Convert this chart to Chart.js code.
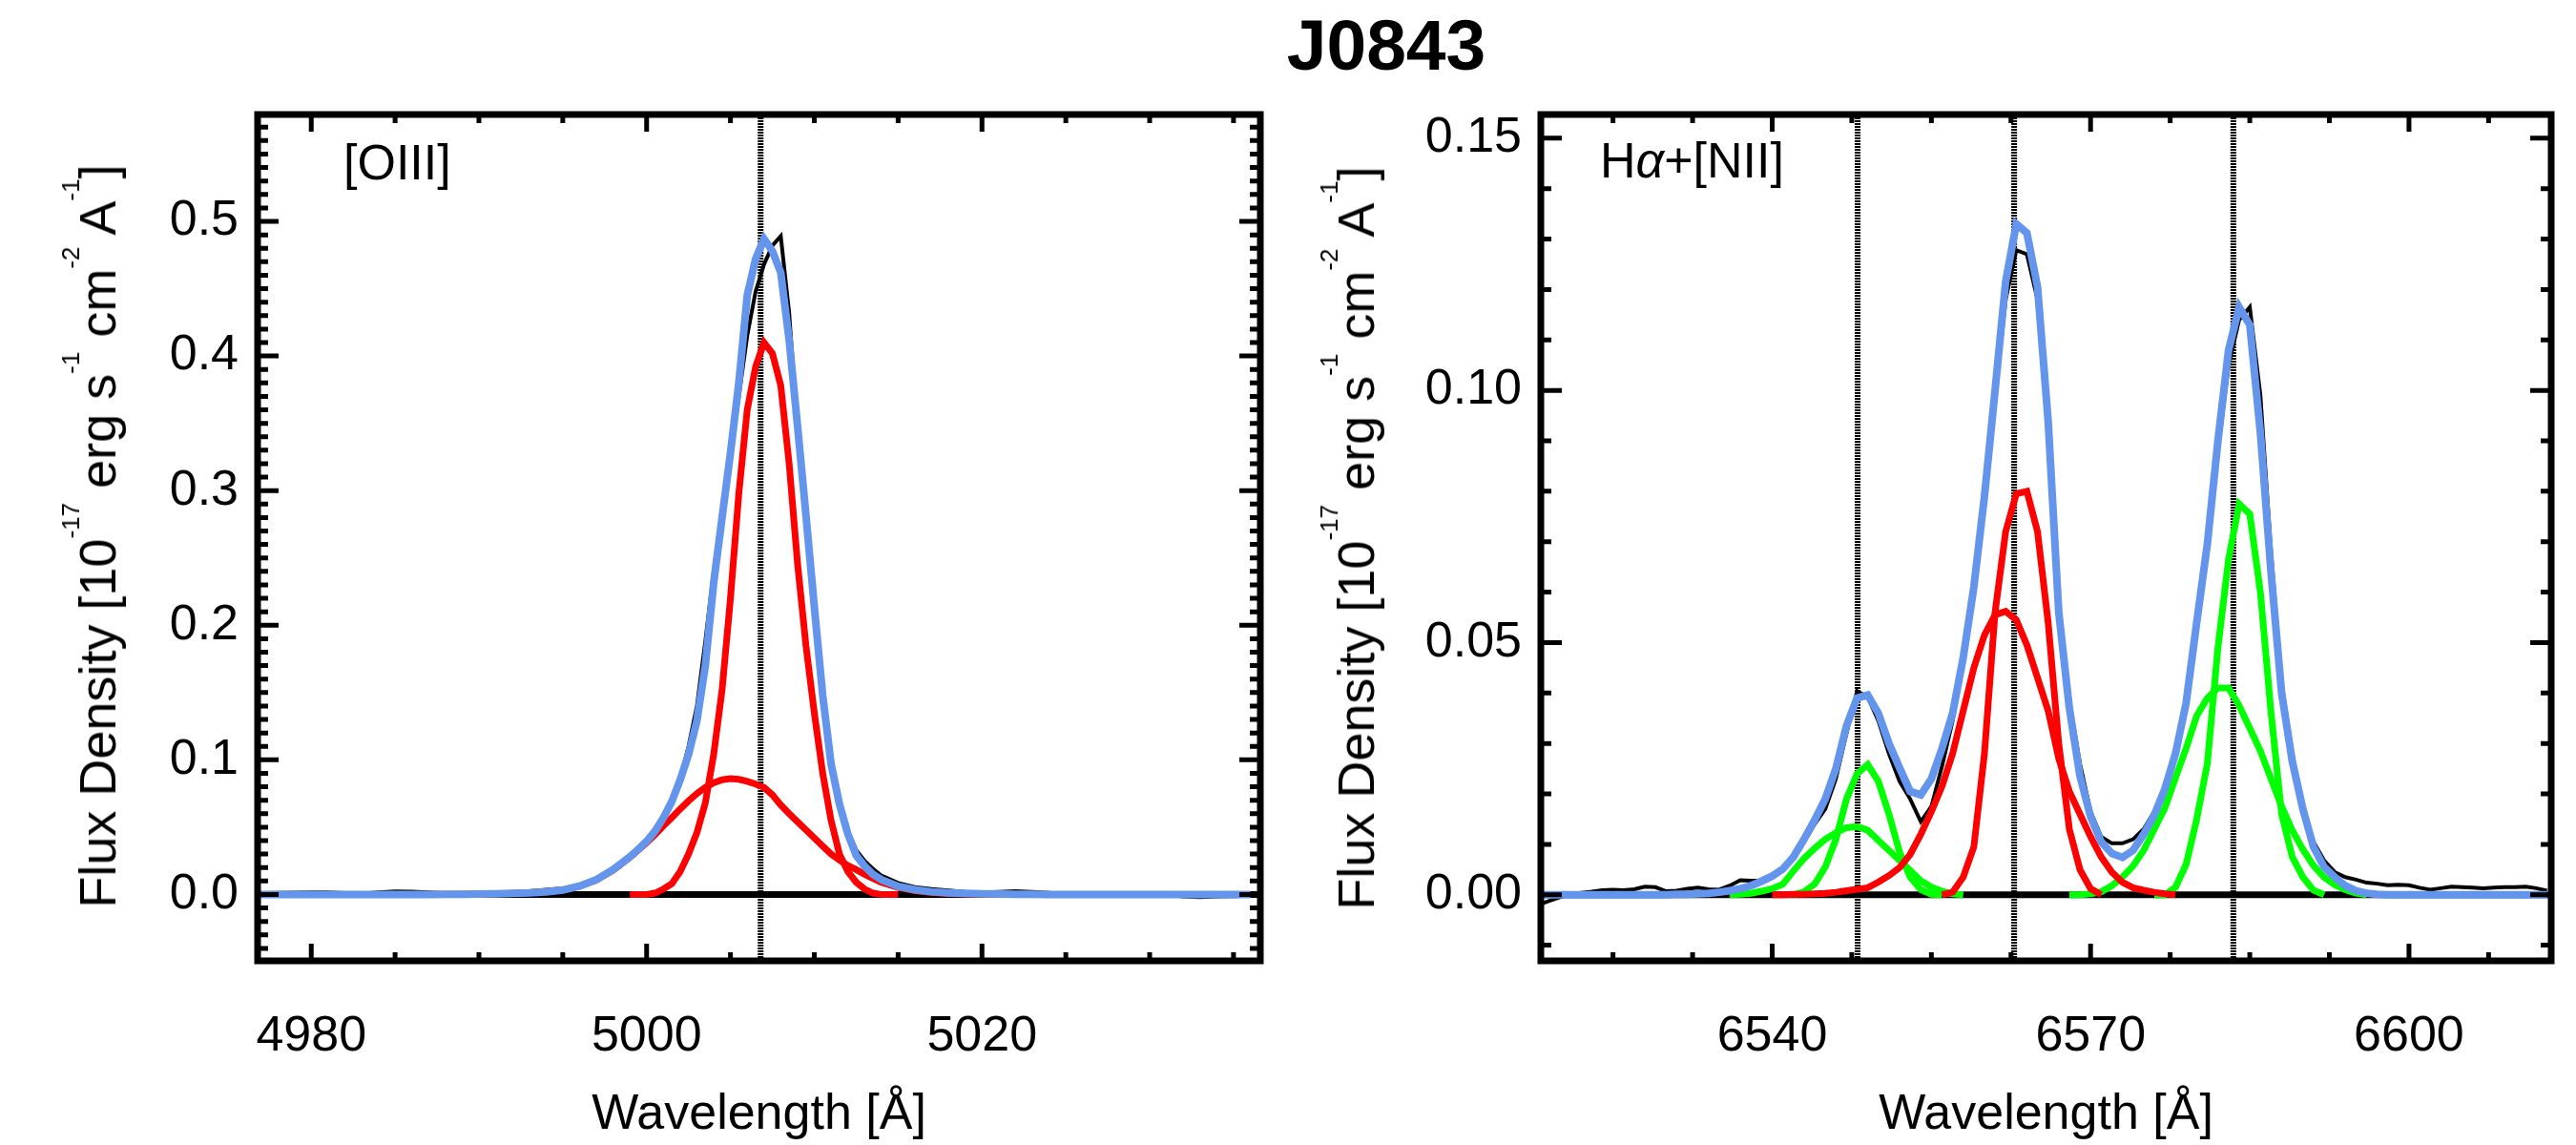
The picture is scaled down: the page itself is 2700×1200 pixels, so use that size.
<!DOCTYPE html>
<html>
<head>
<meta charset="utf-8">
<title>J0843</title>
<script src="https://cdn.jsdelivr.net/npm/chart.js@4.4.1/dist/chart.umd.min.js"></script>
<style>
  html, body { margin: 0; padding: 0; background: #fff; }
  #page { position: relative; width: 2700px; height: 1200px; overflow: hidden;
          font-family: "Liberation Sans", Arial, Helvetica, sans-serif; color: #000; }
  canvas { position: absolute; top: 0; }
  #c1 { left: 0; }
  #c2 { left: 1350px; }
  .title { position: absolute; top: 10px; left: 1253px; width: 400px; text-align: center;
           font-size: 75px; line-height: 75px; font-weight: bold; }
  .ytitle { position: absolute; white-space: nowrap; font-size: 54px; line-height: 64px;
            transform: translate(-50%, -50%) rotate(-90deg); }
  .ytitle sup { font-size: 26px; vertical-align: 38px; line-height: 0; }
  .label { position: absolute; font-size: 52px; line-height: 52px; white-space: nowrap; }
</style>
</head>
<body>
<div id="page">
  <canvas id="c1" width="1350" height="1200"></canvas>
  <canvas id="c2" width="1350" height="1200"></canvas>
  <div class="title">J0843</div>
  <div class="ytitle" style="left:102px; top:562px;">Flux Density [10<sup>-17</sup> erg s<sup>-1</sup> cm<sup>-2</sup> A<sup>-1</sup>]</div>
  <div class="ytitle" style="left:1421px; top:564px;">Flux Density [10<sup>-17</sup> erg s<sup>-1</sup> cm<sup>-2</sup> A<sup>-1</sup>]</div>
  <div class="label" style="left:360px; top:144px;">[OIII]</div>
  <div class="label" style="left:1677px; top:142px;">H<i>α</i>+[NII]</div>
</div>
<script>
Chart.defaults.font.family = "'Liberation Sans', Arial, sans-serif";
Chart.defaults.color = '#000';

const BLUE = '#6495ED';
const RED = '#FF0000';
const GREEN = '#00FF00';

// ---- [OIII] panel ----
const waveO3 = [4977, 4978, 4979, 4980, 4981, 4982, 4983, 4984, 4985, 4986, 4987, 4988,
  4989, 4990, 4991, 4992, 4993, 4994, 4995, 4996, 4997, 4998, 4999,
  4999.5, 5000, 5000.5, 5001, 5001.5, 5002, 5002.5, 5003, 5003.5, 5004, 5004.5, 5005,
  5005.5, 5006, 5006.5, 5007, 5007.5, 5008, 5008.5, 5009, 5009.5, 5010, 5010.5, 5011,
  5011.5, 5012, 5012.5, 5013, 5013.5, 5014,
  5015, 5016, 5017, 5018, 5019, 5020, 5021, 5022, 5023, 5024, 5025, 5026, 5027, 5028,
  5029, 5030, 5031, 5032, 5033, 5034, 5035, 5036];
const fluxO3 = [0.0010, 0.0012, 0.0014, 0.0016, 0.0015, 0.0010, 0.0005, 0.0015, 0.0022, 0.0020,
  0.0015, 0.0008, 0.0010, 0.0012, 0.0015, 0.0018, 0.0025, 0.0035, 0.0045, 0.0070, 0.0110, 0.0180, 0.0270,
  0.0330, 0.0390, 0.0460, 0.0550, 0.0680, 0.0860, 0.1100, 0.1400, 0.1880, 0.2400, 0.2850, 0.3280,
  0.3700, 0.4150, 0.4480, 0.4680, 0.4820, 0.4890, 0.4320, 0.3450, 0.2800, 0.2130, 0.1500, 0.1020,
  0.0700, 0.0470, 0.0330, 0.0250, 0.0190, 0.0140,
  0.0085, 0.0055, 0.0040, 0.0030, 0.0020, 0.0015, 0.0020, 0.0025, 0.0020, 0.0012, 0.0005, 0.0000,
  -0.0008, -0.0010, 0.0000, 0.0008, 0.0002, -0.0015, -0.0020, -0.0015, -0.0012, -0.0010];
const modelO3 = [0, 0, 0, 0, 0, 0, 0, 0, 0, 0, 0, 0.0001, 0.0002, 0.0003, 0.0005, 0.0008, 0.0012,
  0.0019, 0.0033, 0.0062, 0.0110, 0.0185, 0.0280,
  0.0335, 0.0395, 0.0470, 0.0570, 0.0690, 0.0850, 0.1040, 0.1290, 0.1700, 0.2315, 0.2800, 0.3280,
  0.3800, 0.4450, 0.4720, 0.4870, 0.4780, 0.4620, 0.4120, 0.3480, 0.2820, 0.2140, 0.1480, 0.0970,
  0.0670, 0.0450, 0.0290, 0.0210, 0.0150, 0.0110,
  0.0060, 0.0035, 0.0020, 0.0012, 0.0008, 0.0005, 0.0003, 0.0002, 0.0001, 0, 0, 0, 0, 0, 0, 0,
  0, 0, 0, 0, 0, 0];
const o3NarrowStart = 4999;
const o3Narrow = [0, 0, 0, 0.001, 0.004, 0.008, 0.017, 0.030, 0.046, 0.068, 0.104, 0.152, 0.220,
  0.298, 0.360, 0.392, 0.410, 0.402, 0.378, 0.320, 0.246, 0.185, 0.135, 0.090, 0.055, 0.030,
  0.017, 0.009, 0.004, 0.001, 0, 0];
const o3BroadStart = 4985;
const o3Broad = [0, 0, 0.0001, 0.0001, 0.0002, 0.0003, 0.0005, 0.0008, 0.0012, 0.0019, 0.0033,
  0.0062, 0.0108, 0.0180, 0.0275,
  0.0330, 0.0385, 0.0445, 0.0510, 0.0570, 0.0635, 0.0695, 0.0750, 0.0795, 0.0830, 0.0852, 0.0860,
  0.0855, 0.0840, 0.0820, 0.0795, 0.0740, 0.0665, 0.0600, 0.0540, 0.0480, 0.0420, 0.0360, 0.0300,
  0.0255, 0.0215, 0.0185, 0.0150, 0.0120, 0.0090,
  0.0052, 0.0028, 0.0014, 0.0007, 0.0003, 0.0001, 0];
const o3Centers = [5006.8];
const o3XRange = [4976.8, 5036.6];
const o3YRange = [-0.0493, 0.5794];
const o3XTicks = [4980, 5000, 5020];
const o3YTicks = [0.0, 0.1, 0.2, 0.3, 0.4, 0.5];

// ---- Halpha + [NII] panel ----
const waveHa = [6518, 6519, 6520, 6521, 6522, 6523, 6524, 6525, 6526, 6527, 6528, 6529, 6530,
  6531, 6532, 6533, 6534, 6535, 6536, 6537, 6538, 6539, 6540, 6541, 6542, 6543, 6544, 6545,
  6546, 6547, 6548, 6549, 6550, 6551, 6552, 6553, 6554, 6555, 6556, 6557, 6558, 6559, 6560,
  6561, 6562, 6563, 6564, 6565, 6566, 6567, 6568, 6569, 6570, 6571, 6572, 6573, 6574, 6575,
  6576, 6577, 6578, 6579, 6580, 6581, 6582, 6583, 6584, 6585, 6586, 6587, 6588, 6589, 6590,
  6591, 6592, 6593, 6594, 6595, 6596, 6597, 6598, 6599, 6600, 6601, 6602, 6603, 6604, 6605,
  6606, 6607, 6608, 6609, 6610, 6611, 6612, 6613];
const fluxHa = [-0.0020, -0.0012, -0.0005, 0.0000, 0.0004, 0.0006, 0.0009, 0.0010, 0.0009, 0.0011,
  0.0016, 0.0015, 0.0007, 0.0008, 0.0012, 0.0014, 0.0011, 0.0010, 0.0018, 0.0029, 0.0028, 0.0028,
  0.0036, 0.0050, 0.0072, 0.0105, 0.0140, 0.0170, 0.0230, 0.0320, 0.0404, 0.0392, 0.0345, 0.0280,
  0.0225, 0.0190, 0.0145, 0.0175, 0.0255, 0.0345, 0.0460, 0.0610, 0.0780, 0.0990, 0.1180, 0.1278,
  0.1270, 0.1180, 0.0960, 0.0580, 0.0385, 0.0260, 0.0165, 0.0115, 0.0102, 0.0102, 0.0110, 0.0130,
  0.0165, 0.0215, 0.0285, 0.0380, 0.0530, 0.0690, 0.0880, 0.1050, 0.1140, 0.1165, 0.0990, 0.0680,
  0.0420, 0.0280, 0.0175, 0.0105, 0.0068, 0.0045, 0.0035, 0.0030, 0.0024, 0.0022, 0.0019, 0.0020,
  0.0019, 0.0014, 0.0010, 0.0013, 0.0016, 0.0015, 0.0014, 0.0013, 0.0014, 0.0015, 0.0015, 0.0016,
  0.0013, 0.0008];
const modelHa = [0, 0, 0, 0, 0, 0, 0, 0, 0, 0, 0, 0, 0,
  0.0001, 0.0001, 0.0002, 0.0003, 0.0005, 0.0008, 0.0012, 0.0018, 0.0027, 0.0037, 0.0051, 0.0075,
  0.0110, 0.0148, 0.0190, 0.0250, 0.0335, 0.0390, 0.0396, 0.0360, 0.0300, 0.0252, 0.0205, 0.0198,
  0.0230, 0.0290, 0.0360, 0.0470, 0.0610, 0.0790, 0.1000, 0.1216, 0.1330, 0.1312, 0.1205, 0.0940,
  0.0560, 0.0370, 0.0235, 0.0155, 0.0105, 0.0082, 0.0074, 0.0088, 0.0120, 0.0158, 0.0210, 0.0280,
  0.0380, 0.0540, 0.0695, 0.0900, 0.1080, 0.1165, 0.1130, 0.0916, 0.0640, 0.0400, 0.0265, 0.0170,
  0.0095, 0.0055, 0.0035, 0.0018, 0.0008, 0.0003, 0.0001,
  0, 0, 0, 0, 0, 0, 0, 0, 0, 0, 0, 0, 0, 0, 0, 0];
const haNarrowStart = 6556;
const haNarrow = [0, 0.0005, 0.0035, 0.0095, 0.0280, 0.0560, 0.0720, 0.0795, 0.0800, 0.0720,
  0.0540, 0.0300, 0.0130, 0.0050, 0.0012, 0];
const haBroadStart = 6540;
const haBroad = [0, 0, 0.0001, 0.0001, 0.0002, 0.0003, 0.0005, 0.0008, 0.0011, 0.0014, 0.0025,
  0.0038, 0.0054, 0.0080, 0.0120, 0.0165, 0.0215, 0.0280, 0.0365, 0.0450, 0.0515, 0.0555, 0.0562,
  0.0545, 0.0495, 0.0430, 0.0365, 0.0270, 0.0205, 0.0160, 0.0115, 0.0075, 0.0045, 0.0025, 0.0014,
  0.0009, 0.0005, 0.0002, 0];
const n2aNarrowStart = 6542;
const n2aNarrow = [0, 0.0006, 0.0021, 0.0055, 0.0110, 0.0190, 0.0240, 0.0258, 0.0225, 0.0160,
  0.0085, 0.0035, 0.0010, 0.0001, 0];
const n2aBroadStart = 6536;
const n2aBroad = [0, 0.0001, 0.0003, 0.0007, 0.0012, 0.0021, 0.0047, 0.0072, 0.0092, 0.0110,
  0.0123, 0.0133, 0.0135, 0.0128, 0.0108, 0.0088, 0.0068, 0.0048, 0.0028, 0.0015, 0.0007, 0.0002, 0];
const n2bNarrowStart = 6576;
const n2bNarrow = [0, 0, 0.0015, 0.0060, 0.0150, 0.0260, 0.0490, 0.0665, 0.0775, 0.0755, 0.0600,
  0.0362, 0.0160, 0.0075, 0.0035, 0.0009, 0];
const n2bBroadStart = 6568;
const n2bBroad = [0, 0, 0.0002, 0.0006, 0.0018, 0.0035, 0.0057, 0.0088, 0.0130, 0.0172, 0.0232,
  0.0290, 0.0355, 0.0390, 0.0410, 0.0410, 0.0375, 0.0330, 0.0285, 0.0230, 0.0175, 0.0128, 0.0090,
  0.0058, 0.0035, 0.0020, 0.0010, 0.0003, 0];
const haCenters = [6548.05, 6562.8, 6583.45];
const haXRange = [6518.2, 6613.4];
const haYRange = [-0.0131, 0.1547];
const haXTicks = [6540, 6570, 6600];
const haYTicks = [0.00, 0.05, 0.10, 0.15];

// pair values with the wavelength grid, starting at a given wavelength
function pts(wave, vals, start) {
  const i0 = start === undefined ? 0 : wave.indexOf(start);
  return vals.map((v, i) => ({ x: wave[i0 + i], y: v }));
}

function lineSet(data, color, width, extra) {
  return Object.assign({
    data: data, borderColor: color, borderWidth: width,
    pointRadius: 0, fill: false, tension: 0
  }, extra || {});
}

// IDL-like box: thick frame with inward major/minor ticks on all four sides
const boxPlugin = {
  id: 'box',
  afterDatasetsDraw(chart, args, opts) {
    const { ctx, chartArea: a, scales: { x, y } } = chart;
    ctx.save();
    ctx.strokeStyle = '#000';
    ctx.lineWidth = 5;
    ctx.beginPath();
    const xs = [];
    for (let k = Math.ceil(x.min / opts.xMinor); k * opts.xMinor <= x.max; k++) xs.push(k * opts.xMinor);
    xs.forEach(v => {
      const major = opts.xMajor.some(m => Math.abs(m - v) < 1e-6);
      const len = major ? 18 : 9;
      const px = x.getPixelForValue(v);
      ctx.moveTo(px, a.bottom); ctx.lineTo(px, a.bottom - len);
      ctx.moveTo(px, a.top); ctx.lineTo(px, a.top + len);
    });
    const ys = [];
    for (let k = Math.ceil(y.min / opts.yMinor); k * opts.yMinor <= y.max; k++) ys.push(k * opts.yMinor);
    ys.forEach(v => {
      const major = opts.yMajor.some(m => Math.abs(m - v) < 1e-6);
      const len = major ? 22 : 11;
      const py = y.getPixelForValue(v);
      ctx.moveTo(a.left, py); ctx.lineTo(a.left + len, py);
      ctx.moveTo(a.right, py); ctx.lineTo(a.right - len, py);
    });
    ctx.stroke();
    ctx.lineWidth = 7;
    ctx.strokeRect(a.left, a.top, a.right - a.left, a.bottom - a.top);
    ctx.restore();
  }
};

function makePanel(p) {
  const comps = p.components.map(c => lineSet(pts(p.wave, c.vals, c.start), c.color, 7));
  const centers = p.centers.map(c => lineSet([{ x: c, y: p.yRange[0] }, { x: c, y: p.yRange[1] }],
    '#000', 6, { borderDash: [2, 1] }));
  // first dataset is drawn on top
  const datasets = [
    lineSet(pts(p.wave, p.model), BLUE, 8),
    ...comps,
    lineSet(pts(p.wave, p.flux), '#000', 4),
    lineSet([{ x: p.xRange[0], y: 0 }, { x: p.xRange[1], y: 0 }], '#000', 7),
    ...centers
  ];
  const tickFont = { size: 52 };
  return new Chart(document.getElementById(p.id), {
    type: 'line',
    data: { datasets: datasets },
    options: {
      responsive: false,
      animation: false,
      devicePixelRatio: 1,
      layout: { padding: { top: 120, right: p.padRight, bottom: 0, left: 0 } },
      plugins: {
        legend: { display: false },
        tooltip: { enabled: false },
        box: { xMajor: p.xTicks, xMinor: p.xMinor, yMajor: p.yTicks, yMinor: p.yMinor }
      },
      scales: {
        x: {
          type: 'linear', position: 'bottom', min: p.xRange[0], max: p.xRange[1],
          grid: { display: false, drawTicks: false },
          border: { display: false },
          afterBuildTicks: s => { s.ticks = p.xTicks.map(v => ({ value: v })); },
          afterFit: s => { s.height = 193; },
          ticks: { font: tickFont, color: '#000', padding: 48, maxRotation: 0, autoSkip: false,
                   callback: v => String(v) },
          title: { display: true, text: 'Wavelength [Å]', font: { size: 52 }, color: '#000',
                   padding: { top: 0, bottom: 0 } }
        },
        y: {
          type: 'linear', position: 'left', min: p.yRange[0], max: p.yRange[1],
          grid: { display: false, drawTicks: false },
          border: { display: false },
          afterBuildTicks: s => { s.ticks = p.yTicks.map(v => ({ value: v })); },
          afterFit: s => { s.width = p.yWidth; },
          ticks: { font: tickFont, color: '#000', padding: 20, autoSkip: false,
                   callback: v => v.toFixed(p.yDec) }
        }
      }
    },
    plugins: [boxPlugin]
  });
}

makePanel({
  id: 'c1', wave: waveO3, flux: fluxO3, model: modelO3,
  components: [
    { vals: o3Narrow, start: o3NarrowStart, color: RED },
    { vals: o3Broad, start: o3BroadStart, color: RED }
  ],
  centers: o3Centers, xRange: o3XRange, yRange: o3YRange,
  xTicks: o3XTicks, yTicks: o3YTicks, xMinor: 5, yMinor: 0.01, yDec: 1,
  yWidth: 270, padRight: 29
});

makePanel({
  id: 'c2', wave: waveHa, flux: fluxHa, model: modelHa,
  components: [
    { vals: haNarrow, start: haNarrowStart, color: RED },
    { vals: haBroad, start: haBroadStart, color: RED },
    { vals: n2aNarrow, start: n2aNarrowStart, color: GREEN },
    { vals: n2aBroad, start: n2aBroadStart, color: GREEN },
    { vals: n2bNarrow, start: n2bNarrowStart, color: GREEN },
    { vals: n2bBroad, start: n2bBroadStart, color: GREEN }
  ],
  centers: haCenters, xRange: haXRange, yRange: haYRange,
  xTicks: haXTicks, yTicks: haYTicks, xMinor: 7.5, yMinor: 0.01, yDec: 2,
  yWidth: 265, padRight: 26
});
</script>
</body>
</html>
